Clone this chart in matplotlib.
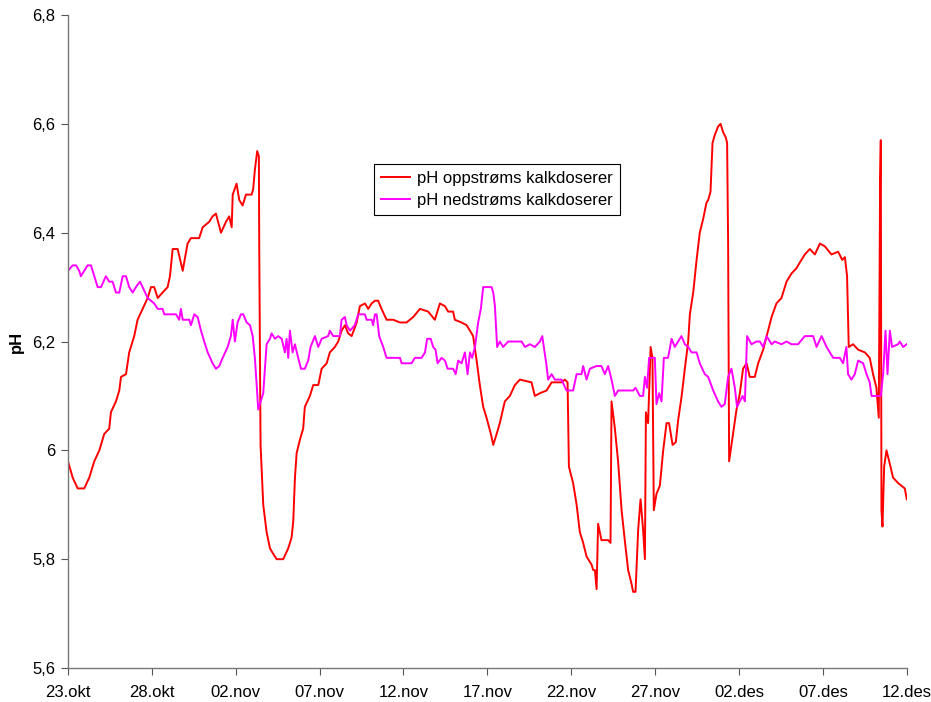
import matplotlib
matplotlib.use("Agg")
import matplotlib.pyplot as plt

plt.rcParams['font.family'] = ['Liberation Sans', 'DejaVu Sans']

# x = days after 23.okt
tick_days = [0, 5, 10, 15, 20, 25, 30, 35, 40, 45, 50]
tick_labels = ["23.okt", "28.okt", "02.nov", "07.nov", "12.nov", "17.nov",
               "22.nov", "27.nov", "02.des", "07.des", "12.des"]
y_ticks = [5.6, 5.8, 6.0, 6.2, 6.4, 6.6, 6.8]
y_tick_labels = ["5,6", "5,8", "6", "6,2", "6,4", "6,6", "6,8"]

up_days = [0.0, 0.28, 0.58, 0.97, 1.27, 1.57, 1.87, 2.16, 2.46, 2.56, 2.86, 3.06, 3.16, 3.46,
           3.65, 3.95, 4.15, 4.45, 4.75, 4.95, 5.14, 5.35, 5.64, 5.94, 6.08, 6.24, 6.54, 6.84,
           7.13, 7.33, 7.82, 8.03, 8.42, 8.62, 8.82, 9.12, 9.42, 9.61, 9.76, 9.82, 10.05, 10.21,
           10.41, 10.61, 10.95, 11.04, 11.14, 11.28, 11.38, 11.40, 11.48, 11.64, 11.84, 12.04,
           12.23, 12.44, 12.83, 13.13, 13.33, 13.43, 13.53, 13.63, 13.83, 14.02, 14.12, 14.42,
           14.62, 14.92, 15.12, 15.42, 15.61, 15.91, 16.11, 16.31, 16.51, 16.70, 16.91, 17.21,
           17.40, 17.70, 17.90, 18.10, 18.30, 18.49, 18.69, 18.99, 19.39, 19.79, 20.18, 20.58,
           20.98, 21.47, 21.87, 22.17, 22.47, 22.66, 22.96, 23.06, 23.46, 23.76, 23.96, 24.15,
           24.36, 24.55, 24.75, 24.95, 25.21, 25.35, 25.55, 25.74, 26.04, 26.34, 26.64, 26.94,
           27.63, 27.83, 28.13, 28.53, 28.83, 29.42, 29.62, 29.78, 29.86, 30.11, 30.32, 30.51,
           30.71, 30.91, 31.21, 31.31, 31.41, 31.51, 31.60, 31.80, 32.20, 32.34, 32.40, 32.60,
           32.79, 33.00, 33.19, 33.39, 33.59, 33.69, 33.83, 33.99, 34.13, 34.28, 34.39, 34.45,
           34.58, 34.73, 34.84, 34.92, 35.08, 35.28, 35.48, 35.68, 35.83, 36.04, 36.23, 36.37,
           36.58, 36.77, 36.97, 37.07, 37.27, 37.47, 37.66, 37.86, 38.06, 38.16, 38.30, 38.42,
           38.56, 38.75, 38.90, 39.05, 39.21, 39.29, 39.35, 39.41, 39.55, 39.69, 39.85, 40.05,
           40.24, 40.45, 40.64, 40.94, 41.14, 41.44, 41.73, 41.94, 42.23, 42.53, 42.83, 43.13,
           43.43, 43.62, 43.92, 44.22, 44.52, 44.82, 45.11, 45.51, 45.91, 46.15, 46.31, 46.44,
           46.54, 46.80, 47.10, 47.50, 47.79, 47.99, 48.19, 48.33, 48.41, 48.45, 48.49, 48.55,
           48.65, 48.79, 48.99, 49.18, 49.48, 49.88, 50.0]
up_ph = [5.98, 5.95, 5.93, 5.93, 5.95, 5.98, 6.00, 6.03, 6.04, 6.07, 6.09, 6.11, 6.135, 6.14,
         6.18, 6.21, 6.24, 6.26, 6.28, 6.30, 6.30, 6.28, 6.29, 6.30, 6.32, 6.37, 6.37, 6.33,
         6.38, 6.39, 6.39, 6.41, 6.42, 6.43, 6.435, 6.40, 6.42, 6.43, 6.41, 6.47, 6.49, 6.46,
         6.45, 6.47, 6.47, 6.48, 6.515, 6.55, 6.54, 6.38, 6.01, 5.90, 5.85, 5.82,
         5.81, 5.80, 5.80, 5.82, 5.84, 5.87, 5.95, 5.995, 6.02, 6.04, 6.08, 6.10,
         6.12, 6.12, 6.15, 6.16, 6.18, 6.19, 6.20, 6.22, 6.23, 6.215, 6.21, 6.235,
         6.265, 6.27, 6.26, 6.27, 6.275, 6.275, 6.26, 6.24, 6.24, 6.235, 6.235, 6.245,
         6.26, 6.255, 6.24, 6.27, 6.265, 6.255, 6.255, 6.24, 6.235, 6.23, 6.22, 6.21,
         6.165, 6.12, 6.08, 6.06, 6.03, 6.01, 6.03, 6.05, 6.09, 6.10, 6.12, 6.13,
         6.125, 6.10, 6.105, 6.11, 6.125, 6.125, 6.13, 6.125, 5.97, 5.94, 5.90, 5.85,
         5.83, 5.805, 5.79, 5.78, 5.78, 5.745, 5.865, 5.835, 5.835, 5.83, 6.09, 6.04,
         5.98, 5.89, 5.835, 5.78, 5.755, 5.74, 5.74, 5.855, 5.91, 5.855, 5.80, 6.07,
         6.05, 6.19, 6.17, 5.89, 5.92, 5.935, 6.00, 6.05, 6.05, 6.01, 6.015, 6.055,
         6.10, 6.15, 6.20, 6.25, 6.29, 6.35, 6.40, 6.425, 6.455, 6.46, 6.475, 6.565,
         6.58, 6.595, 6.60, 6.585, 6.575, 6.565, 6.38, 5.98, 6.01, 6.04, 6.075, 6.105,
         6.15, 6.16, 6.135, 6.135, 6.16, 6.185, 6.22, 6.245, 6.27, 6.28, 6.31, 6.325,
         6.335, 6.345, 6.36, 6.37, 6.36, 6.38, 6.375, 6.36, 6.365, 6.35, 6.355, 6.32,
         6.19, 6.195, 6.185, 6.18, 6.17, 6.14, 6.115, 6.06, 6.50, 6.57, 5.89, 5.86,
         5.97, 6.00, 5.975, 5.95, 5.94, 5.93, 5.91]

down_days = [0.0, 0.28, 0.48, 0.67, 0.77, 0.97, 1.17, 1.37, 1.57, 1.77, 1.97, 2.26, 2.46, 2.66,
             2.86, 3.06, 3.26, 3.46, 3.65, 3.86, 4.05, 4.29, 4.45, 4.75, 4.95, 5.14, 5.35, 5.64,
             5.74, 6.44, 6.63, 6.73, 6.84, 7.23, 7.33, 7.53, 7.73, 7.93, 8.12, 8.33, 8.62, 8.82,
             9.02, 9.22, 9.52, 9.71, 9.82, 9.95, 10.11, 10.31, 10.45, 10.65, 10.85, 11.01, 11.14,
             11.25, 11.34, 11.44, 11.64, 11.74, 11.84, 12.04, 12.14, 12.34, 12.53, 12.74, 12.93,
             13.03, 13.13, 13.23, 13.39, 13.53, 13.72, 13.89, 14.12, 14.32, 14.46, 14.72, 14.92,
             15.12, 15.51, 15.61, 15.81, 16.21, 16.31, 16.51, 16.61, 16.81, 17.10, 17.30, 17.70,
             17.80, 18.10, 18.19, 18.30, 18.40, 18.55, 18.79, 18.99, 19.79, 19.89, 20.48, 20.68,
             21.08, 21.28, 21.41, 21.62, 21.77, 21.91, 22.03, 22.27, 22.47, 22.63, 22.96, 23.11,
             23.26, 23.46, 23.66, 23.82, 23.96, 24.09, 24.26, 24.45, 24.61, 24.75, 25.25, 25.35,
             25.45, 25.58, 25.74, 25.94, 26.24, 26.64, 27.04, 27.24, 27.53, 27.83, 28.13, 28.27,
             28.39, 28.53, 28.62, 28.83, 29.02, 29.42, 29.72, 30.11, 30.32, 30.61, 30.71, 30.91,
             31.11, 31.51, 31.80, 32.00, 32.20, 32.40, 32.60, 32.79, 33.69, 33.83, 34.09, 34.28,
             34.39, 34.52, 34.64, 34.78, 34.98, 35.08, 35.24, 35.38, 35.52, 35.77, 35.98, 36.17,
             36.37, 36.57, 36.77, 36.97, 37.17, 37.47, 37.66, 37.96, 38.16, 38.46, 38.75, 38.95,
             39.15, 39.35, 39.55, 39.75, 39.88, 40.05, 40.21, 40.35, 40.48, 40.74, 41.04, 41.24,
             41.44, 41.64, 41.94, 42.13, 42.53, 42.83, 43.13, 43.52, 43.92, 44.42, 44.62, 44.92,
             45.22, 45.61, 46.01, 46.20, 46.40, 46.50, 46.70, 46.90, 47.10, 47.40, 47.60, 47.79,
             47.90, 48.19, 48.45, 48.59, 48.73, 48.85, 48.99, 49.12, 49.48, 49.58, 49.78, 50.0]
down_ph = [6.33, 6.34, 6.34, 6.33, 6.32, 6.33, 6.34, 6.34, 6.32, 6.30, 6.30, 6.32, 6.31, 6.31,
           6.29, 6.29, 6.32, 6.32, 6.30, 6.29, 6.30, 6.31, 6.30, 6.28, 6.275, 6.27, 6.26, 6.26,
           6.25, 6.25, 6.24, 6.26, 6.24, 6.24, 6.23, 6.25, 6.245, 6.22, 6.20, 6.18, 6.16, 6.15,
           6.155, 6.17, 6.19, 6.21, 6.24, 6.20, 6.235, 6.25, 6.25, 6.235, 6.23, 6.21, 6.17,
           6.12, 6.075, 6.085, 6.105, 6.15, 6.195, 6.205, 6.215, 6.205, 6.21, 6.205, 6.18,
           6.205, 6.17, 6.22, 6.18, 6.195, 6.17, 6.15, 6.15, 6.165, 6.19, 6.21, 6.19,
           6.205, 6.21, 6.22, 6.21, 6.21, 6.24, 6.245, 6.23, 6.22, 6.23, 6.25, 6.25,
           6.24, 6.24, 6.23, 6.25, 6.25, 6.21, 6.19, 6.17, 6.17, 6.16, 6.16, 6.17,
           6.17, 6.18, 6.205, 6.205, 6.19, 6.185, 6.16, 6.17, 6.165, 6.15, 6.15, 6.14,
           6.165, 6.16, 6.18, 6.14, 6.18, 6.17, 6.19, 6.235, 6.26, 6.30, 6.30, 6.29,
           6.265, 6.19, 6.20, 6.19, 6.20, 6.20, 6.20, 6.19, 6.195, 6.19, 6.20, 6.21,
           6.185, 6.155, 6.13, 6.14, 6.13, 6.13, 6.11, 6.11, 6.14, 6.14, 6.155, 6.13,
           6.15, 6.155, 6.155, 6.14, 6.155, 6.13, 6.10, 6.11, 6.11, 6.115, 6.10, 6.10,
           6.135, 6.115, 6.17, 6.17, 6.17, 6.085, 6.105, 6.09, 6.17, 6.17, 6.205, 6.19,
           6.20, 6.21, 6.195, 6.19, 6.18, 6.18, 6.16, 6.14, 6.135, 6.11, 6.09, 6.08,
           6.085, 6.135, 6.15, 6.115, 6.08, 6.09, 6.10, 6.09, 6.21, 6.195, 6.20, 6.20,
           6.19, 6.21, 6.195, 6.20, 6.195, 6.20, 6.195, 6.195, 6.21, 6.21, 6.19, 6.21,
           6.19, 6.17, 6.17, 6.16, 6.19, 6.14, 6.13, 6.14, 6.165, 6.16, 6.14, 6.125,
           6.10, 6.10, 6.10, 6.14, 6.22, 6.14, 6.22, 6.19, 6.195, 6.20, 6.19, 6.195]

series_labels = ["pH oppstrøms kalkdoserer", "pH nedstrøms kalkdoserer"]
series_colors = ["#FF0000", "#FF00FF"]

fig = plt.figure(figsize=(9.31, 7.02), dpi=100)
ax = fig.add_axes([0.073, 0.0484, 0.901, 0.9302])

ax.plot(up_days, up_ph, color=series_colors[0], lw=1.4, label=series_labels[0])
ax.plot(down_days, down_ph, color=series_colors[1], lw=1.4, label=series_labels[1])

ax.set_xlim(0, 50)
ax.set_ylim(5.6, 6.8)
ax.set_xticks(tick_days)
ax.set_xticklabels(tick_labels, fontsize=12)
ax.set_yticks(y_ticks)
ax.set_yticklabels(y_tick_labels, fontsize=12)
ax.tick_params(axis='both', direction='out', length=5, width=0.8, color='#555555')
ax.tick_params(axis='x', pad=7)
ax.tick_params(axis='y', pad=4)

for s in ['top', 'right']:
    ax.spines[s].set_visible(False)
for s in ['left', 'bottom']:
    ax.spines[s].set_color('#777777')
    ax.spines[s].set_linewidth(1.0)

ax.set_ylabel("pH", fontsize=12, fontweight='bold', labelpad=6)

leg = ax.legend(loc='upper left', bbox_to_anchor=(0.365, 0.772), fontsize=12,
                frameon=True, fancybox=False, shadow=False, framealpha=1,
                edgecolor='black', handlelength=1.75, borderpad=0.4,
                labelspacing=0.45, handletextpad=0.45, borderaxespad=0)
leg.get_frame().set_linewidth(0.8)

fig.savefig("out.png", dpi=100)
